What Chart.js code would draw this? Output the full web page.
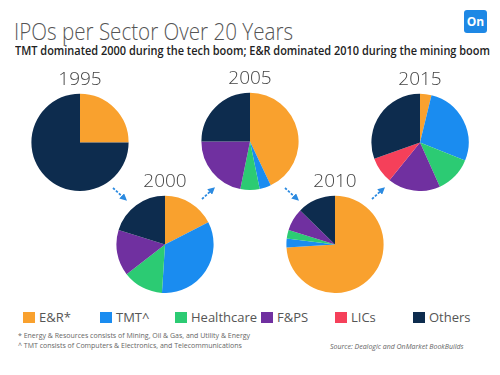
<!DOCTYPE html>
<html>
<head>
<meta charset="utf-8">
<script src="https://cdn.jsdelivr.net/npm/chart.js@4.4.1/dist/chart.umd.min.js"></script>
<style>
	body { margin: 0; background: #fff; }
	#page { position: relative; width: 500px; height: 375px; overflow: hidden; font-family: "Open Sans", "Noto Sans", sans-serif; }
	.pie { position: absolute; width: 98px; height: 123px; }
	#title { position: absolute; left: 14px; top: 14px; font-size: 24px; font-weight: 300; color: #555; white-space: nowrap; transform-origin: 0 0; }
	#subtitle { position: absolute; left: 15px; top: 42px; font-size: 12px; font-weight: 600; color: #222; white-space: nowrap; transform-origin: 0 0; }
	#logo { position: absolute; left: 464px; top: 10px; width: 23px; height: 23px; border-radius: 3px; background: #1e88e5; color: #fff; font: bold 12px "Open Sans", sans-serif; text-align: center; line-height: 23px; }
	.leg { position: absolute; top: 308px; font-size: 13px; color: #555; white-space: nowrap; }
	.leg span { display: inline-block; width: 12px; height: 11px; vertical-align: -1px; margin-right: 4px; }
	.note { position: absolute; font-size: 7px; color: #666; white-space: nowrap; }
	#arrows { position: absolute; left: 0; top: 0; }
</style>
</head>
<body>
<div id="page">
	<div id="title">IPOs per Sector Over 20 Years</div>
	<div id="subtitle">TMT dominated 2000 during the tech boom; E&amp;R dominated 2010 during the mining boom</div>
	<div id="logo">On</div>
	<svg id="arrows" width="500" height="375"></svg>
	<div id="legend"></div>
	<div class="note" style="left:18px; top:331px;">* Energy &amp; Resources consists of Mining, Oil &amp; Gas, and Utility &amp; Energy</div>
	<div class="note" style="left:18px; top:341px;">^ TMT consists of Computers &amp; Electronics, and Telecommunications</div>
	<div class="note" style="left:330px; top:342px; font-style: italic;">Source: Dealogic and OnMarket BookBuilds</div>
</div>
<script>
// sectors and share of IPOs (%) per year
const sectors = ['E&R*', 'TMT^', 'Healthcare', 'F&PS', 'LICs', 'Others'];
const colors = ['#f9a12e', '#1a8cf0', '#2ccb73', '#7030a0', '#f5405a', '#0d2c4e'];
const years = ['1995', '2000', '2005', '2010', '2015'];

const y1995 = [25, 0, 0, 0, 0, 75];
const y2000 = [17.5, 33.5, 13.5, 15.3, 0, 20.2];
const y2005 = [43, 3.8, 6.4, 21.8, 0, 25];
const y2010 = [74, 2.9, 2.9, 7.5, 0, 12.7];
const y2015 = [3.8, 27.3, 12.2, 17.5, 8.7, 30.5];

const values = [y1995, y2000, y2005, y2010, y2015];

// pie centres on the page
const centres = [[80, 141.5], [164.5, 243.5], [250, 141], [334.5, 244], [420, 141.5]];

const page = document.getElementById('page');

// squeeze the header lines to the width they have in the original
function fitWidth(id, w) {
	let el = document.getElementById(id);
	el.style.transform = 'scaleX(' + (w / el.offsetWidth) + ')';
}
fitWidth('title', 279);
fitWidth('subtitle', 475);

years.forEach((year, i) => {
	let div = document.createElement('div');
	div.className = 'pie';
	div.style.left = (centres[i][0] - 49) + 'px';
	div.style.top = (centres[i][1] - 74) + 'px';
	let canvas = document.createElement('canvas');
	div.appendChild(canvas);
	page.appendChild(div);

	new Chart(canvas, {
		type: 'pie',
		data: {
			labels: sectors,
			datasets: [{
				data: values[i],
				backgroundColor: colors,
				borderWidth: 0,
			}],
		},
		options: {
			responsive: true,
			maintainAspectRatio: false,
			animation: false,
			layout: { padding: 0 },
			plugins: {
				legend: { display: false },
				tooltip: { enabled: false },
				title: {
					display: true,
					text: year,
					color: '#444',
					font: { family: '"Open Sans", sans-serif', size: 19, weight: '300', lineHeight: 1.2 },
					padding: { top: 0, bottom: 3 },
				},
			},
		},
	});
});

// legend
const legendX = [23, 100, 175, 261, 335, 413];
const legend = document.getElementById('legend');
sectors.forEach((s, i) => {
	let d = document.createElement('div');
	d.className = 'leg';
	d.style.left = legendX[i] + 'px';
	d.innerHTML = '<span style="background:' + colors[i] + '"></span>' + s.replace('&', '&amp;');
	legend.appendChild(d);
});

// dashed arrows between the years
const arrows = [[113, 188, 125, 199], [202, 199, 213, 189], [285, 188, 297, 199], [372, 199, 383, 189]];
let svg = document.getElementById('arrows');
let html = '<defs><marker id="h" markerWidth="4" markerHeight="4" refX="2.5" refY="2" orient="auto"><path d="M0,0 L4,2 L0,4 z" fill="#2b8ae0"/></marker></defs>';
arrows.forEach(a => {
	html += '<line x1="' + a[0] + '" y1="' + a[1] + '" x2="' + a[2] + '" y2="' + a[3] + '" stroke="#2b8ae0" stroke-width="1.8" stroke-dasharray="2.5,1.5" marker-end="url(#h)"/>';
});
svg.innerHTML = html;
</script>
</body>
</html>
